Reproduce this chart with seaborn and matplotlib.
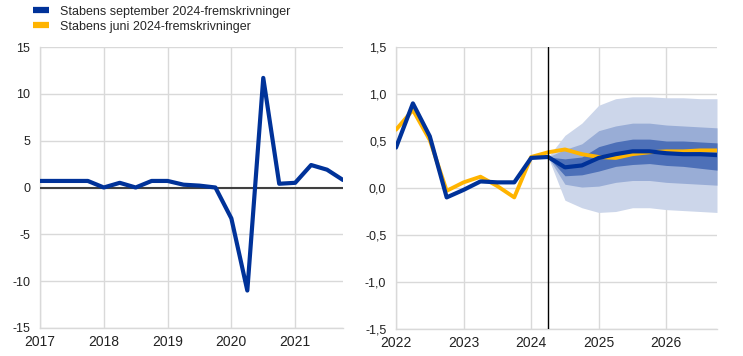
import numpy as np
import pandas as pd
import matplotlib
matplotlib.use("Agg")
import matplotlib.pyplot as plt
from matplotlib.lines import Line2D
from matplotlib.ticker import FuncFormatter
import seaborn as sns

# ---------------- data ----------------
left_years = [2017, 2018, 2019, 2020, 2021]
left_sep = [0.7, 0.7, 0.7, 0.7, 0.0, 0.5, 0.0, 0.7, 0.7, 0.3, 0.2, 0.0,
            -3.3, -11.0, 11.7, 0.4, 0.5, 2.4, 1.9, 0.8]

right_years = [2022, 2023, 2024, 2025, 2026]
right_sep = [0.43, 0.90, 0.55, -0.10, -0.02, 0.07, 0.06, 0.06, 0.32, 0.33,
             0.22, 0.24, 0.32, 0.36, 0.39, 0.39, 0.37, 0.36, 0.36, 0.35]
right_jun = [0.62, 0.83, 0.51, -0.03, 0.06, 0.12, 0.02, -0.10, 0.33, 0.38,
             0.41, 0.36, 0.33, 0.32, 0.36, 0.38, 0.39, 0.39, 0.40, 0.40]

# fan bands from 2024Q2 (index 9) to 2026Q4 (index 19)
fan_start = 9
outer_hi = [0.33, 0.56, 0.69, 0.88, 0.95, 0.97, 0.97, 0.96, 0.96, 0.95, 0.95]
outer_lo = [0.33, -0.13, -0.21, -0.26, -0.25, -0.21, -0.21, -0.23, -0.24, -0.25, -0.26]
mid_hi = [0.33, 0.41, 0.47, 0.61, 0.66, 0.69, 0.69, 0.67, 0.66, 0.65, 0.64]
mid_lo = [0.33, 0.04, 0.01, 0.02, 0.06, 0.08, 0.08, 0.06, 0.05, 0.04, 0.03]
inner_hi = [0.33, 0.31, 0.33, 0.44, 0.49, 0.52, 0.52, 0.50, 0.50, 0.49, 0.48]
inner_lo = [0.33, 0.13, 0.14, 0.18, 0.23, 0.25, 0.26, 0.24, 0.23, 0.21, 0.19]

label_sep = "Stabens september 2024-fremskrivninger"
label_jun = "Stabens juni 2024-fremskrivninger"

BLUE = "#003299"
YELLOW = "#FFB400"
FAN = ["#CCD6EA", "#99ADD6", "#4D70B8"]
GRID = "#D9D9D9"

# ---------------- figure ----------------
sns.set_style("white")
plt.rcParams["font.family"] = ["Liberation Sans", "DejaVu Sans"]

fig = plt.figure(figsize=(7.43, 3.56), dpi=100)
W, H = 743, 356
def ax_rect(x0, x1, y0, y1):
    return [x0 / W, 1 - y1 / H, (x1 - x0) / W, (y1 - y0) / H]

axL = fig.add_axes(ax_rect(40, 343, 47, 328))
axR = fig.add_axes(ax_rect(396, 717, 47, 329))

dfL = pd.DataFrame({"q": np.arange(len(left_sep)), "v": left_sep})
dfR = pd.DataFrame({"q": np.arange(len(right_sep)), "sep": right_sep, "jun": right_jun})

def style(ax, years, ylim, step, fmt):
    ax.set_xlim(0, len(years) * 4 - 1)
    ax.set_ylim(*ylim)
    ax.set_xticks([4 * i for i in range(len(years))])
    ax.set_xticklabels([str(y) for y in years])
    ax.set_yticks(np.arange(ylim[0], ylim[1] + step / 2, step))
    ax.yaxis.set_major_formatter(FuncFormatter(fmt))
    ax.grid(True, color=GRID, linewidth=1.0)
    ax.set_axisbelow(True)
    for s in ["top", "right"]:
        ax.spines[s].set_visible(False)
    for s in ["left", "bottom"]:
        ax.spines[s].set_color(GRID)
        ax.spines[s].set_linewidth(1.0)
    ax.tick_params(axis="y", length=0, pad=7, labelsize=9, colors="#222222")
    ax.tick_params(axis="x", length=0, pad=5, labelsize=10, colors="#222222")
    ax.set_xlabel("")
    ax.set_ylabel("")

# left panel
sns.lineplot(data=dfL, x="q", y="v", ax=axL, color=BLUE, linewidth=3.0, zorder=4)
axL.axhline(0, color="#404040", linewidth=1.5, zorder=3)
style(axL, left_years, (-15, 15), 5, lambda v, p: f"{v:.0f}")

# right panel fan
qf = np.arange(fan_start, fan_start + len(outer_hi))
axR.fill_between(qf, outer_lo, outer_hi, color=FAN[0], linewidth=0, zorder=1)
axR.fill_between(qf, mid_lo, mid_hi, color=FAN[1], linewidth=0, zorder=1.1)
axR.fill_between(qf, inner_lo, inner_hi, color=FAN[2], linewidth=0, zorder=1.2)
sns.lineplot(data=dfR, x="q", y="jun", ax=axR, color=YELLOW, linewidth=2.8, zorder=4)
sns.lineplot(data=dfR, x="q", y="sep", ax=axR, color=BLUE, linewidth=3.0, zorder=5)
axR.axvline(fan_start, color="black", linewidth=1.0, zorder=6)
style(axR, right_years, (-1.5, 1.5), 0.5,
      lambda v, p: f"{v:.1f}".replace(".", ",").replace("-0,0", "0,0"))

# legend
handles = [Line2D([], [], color=BLUE, linewidth=4.5, solid_capstyle="butt"),
           Line2D([], [], color=YELLOW, linewidth=4.5, solid_capstyle="butt")]
fig.legend(handles, [label_sep, label_jun], loc="upper left",
           bbox_to_anchor=(30 / W, 1 - 3 / H), frameon=False, fontsize=9,
           handlelength=1.3, handletextpad=0.9, labelspacing=0.25,
           borderaxespad=0, borderpad=0.2)

fig.savefig("out.png", dpi=100)
